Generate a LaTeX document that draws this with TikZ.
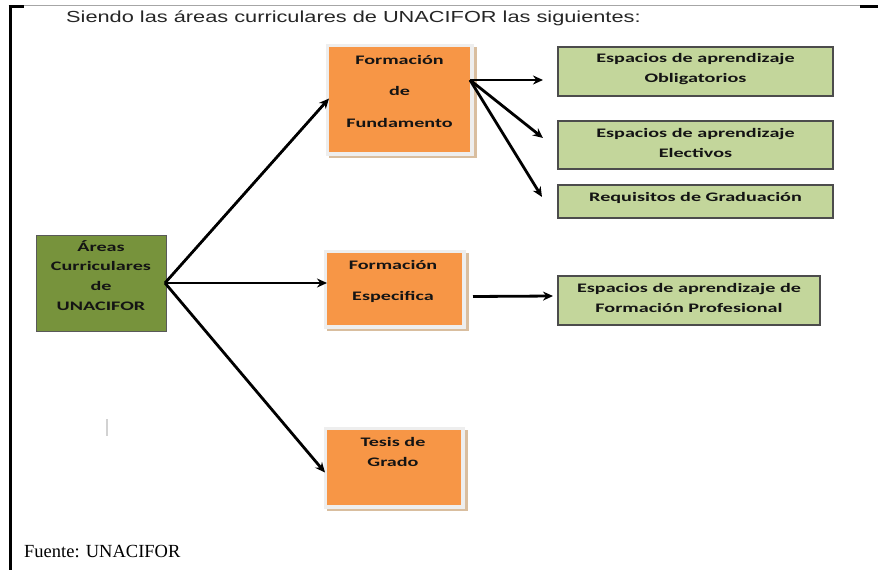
\documentclass[tikz,border=0pt]{standalone}
\usepackage{fontspec}
\usepackage{graphicx}
\setmainfont{Liberation Serif}
\newfontfamily\boxfont{Carlito}
\newfontfamily\titlefont{Liberation Sans}
\usetikzlibrary{arrows.meta,backgrounds}
\definecolor{orangeF}{HTML}{F79646}
\definecolor{oliveG}{HTML}{77933C}
\definecolor{lightG}{HTML}{C3D69B}
\definecolor{frameGray}{HTML}{EEEEEE}
\definecolor{shadowTan}{HTML}{D9BE9F}
\definecolor{txt}{HTML}{141414}
\newcommand{\bxl}[1]{\scalebox{1.55}[1]{#1}}
\tikzset{
  orangebox/.style={fill=orangeF, draw=none, inner sep=0pt, outer sep=0pt},
  olivebox/.style={fill=oliveG, draw=gray!70!black, line width=0.8pt, inner sep=0pt, outer sep=0pt},
  greenbox/.style={fill=lightG, draw=black!70, line width=1.2pt, inner sep=0pt, outer sep=0pt},
  boxtext/.style={font=\boxfont\bfseries\fontsize{13}{20}\selectfont, text=txt, align=center, inner sep=0pt},
  conn/.style={line width=2.8pt, -{Stealth[length=10pt,width=9pt]}},
}
\begin{document}
\begin{tikzpicture}[x=1pt,y=-1pt]
\useasboundingbox (0,0) rectangle (878,570);
% frame
\draw[gray!70, line width=1pt] (10,5.5) -- (862,5.5);
\draw[black, line width=3pt] (8.5,6) -- (24,6);
\draw[black, line width=3pt] (860,6) -- (878,6);
\draw[black, line width=3pt] (10,5) -- (10,570);
\draw[gray!35, line width=1.5pt] (107,419) -- (107,436);

% title
\node[anchor=west, inner sep=0pt, font=\titlefont\fontsize{16}{19}\selectfont, text=black!85] (title) at (66,18) {\scalebox{1.36}[1]{Siendo las áreas curriculares de UNACIFOR las siguientes:}};

% left olive box
\node[olivebox, minimum width=130pt, minimum height=96pt] (areas) at (101,283) {};
\node[boxtext, anchor=north] (areastxt) at (101,240) {\bxl{Áreas}\\[-0.3pt]\bxl{Curriculares}\\[-0.3pt]\bxl{de}\\[-0.3pt]\bxl{UNACIFOR}};

% orange boxes
\node[orangebox, minimum width=141pt, minimum height=105pt] (fund) at (399.5,99.5) {};
\node[orangebox, minimum width=135pt, minimum height=72pt] (espec) at (394.5,289) {};
\node[orangebox, minimum width=134pt, minimum height=75pt] (tesis) at (394,467.5) {};
\begin{scope}[on background layer]
\foreach \b in {fund,espec,tesis}{
  \fill[shadowTan] ([shift={(0,0)}]\b.north west) rectangle ([shift={(7,6)}]\b.south east);
  \fill[frameGray] ([shift={(-3,-3)}]\b.north west) rectangle ([shift={(4,3.5)}]\b.south east);
}
\end{scope}
\node[boxtext, font=\boxfont\bfseries\fontsize{13}{31.5}\selectfont, anchor=north] (fundtxt) at (399.5,55) {\bxl{Formación}\\\bxl{de}\\\bxl{Fundamento}};
\node[boxtext, font=\boxfont\bfseries\fontsize{13}{31}\selectfont, anchor=north] (espectxt) at (393,260) {\bxl{Formación}\\\bxl{Especifica}};
\node[boxtext, anchor=north] (tesistxt) at (393,437) {\bxl{Tesis de}\\\bxl{Grado}};

% light green boxes
\node[greenbox, minimum width=275pt, minimum height=49pt] (oblig) at (695.5,71.5) {};
\node[boxtext] (obligtxt) at (695.5,69.5) {\bxl{Espacios de aprendizaje}\\\bxl{Obligatorios}};
\node[greenbox, minimum width=275pt, minimum height=48pt] (elect) at (695.5,145) {};
\node[boxtext] (electtxt) at (695.5,142.5) {\bxl{Espacios de aprendizaje}\\\bxl{Electivos}};
\node[greenbox, minimum width=275pt, minimum height=33pt] (requi) at (695.5,201.5) {};
\node[boxtext] (requitxt) at (695.5,197.5) {\bxl{Requisitos de Graduación}};
\node[greenbox, minimum width=262pt, minimum height=49pt] (prof) at (689,300.5) {};
\node[boxtext] (proftxt) at (689,297.5) {\bxl{Espacios de aprendizaje de}\\\bxl{Formación Profesional}};

% connectors
\coordinate (a0) at ([xshift=-1pt]areas.east);
\draw[conn] (a0) -- ([yshift=1pt]fund.west);
\draw[conn] (a0) -- (a0 -| espec.west);
\draw[conn] (a0) -- ([shift={(-2,5)}]tesis.west);
\coordinate (f0) at ([yshift=19.5pt]fund.east);
\draw[conn] (f0) -- ([shift={(-15,8.5)}]oblig.west);
\draw[conn] (f0) -- ([shift={(-15,-7)}]elect.west);
\draw[conn] (f0) -- ([shift={(-16,-4.5)}]requi.west);
\coordinate (e0) at ([shift={(11,7.5)}]espec.east);
\draw[conn] (e0) -- ([shift={(-5,-4.5)}]prof.west);

% source
\node[anchor=west, inner sep=0pt, font=\fontsize{18.5}{22}\selectfont] (src) at (24,551) {Fuente: UNACIFOR};
\end{tikzpicture}
\end{document}
